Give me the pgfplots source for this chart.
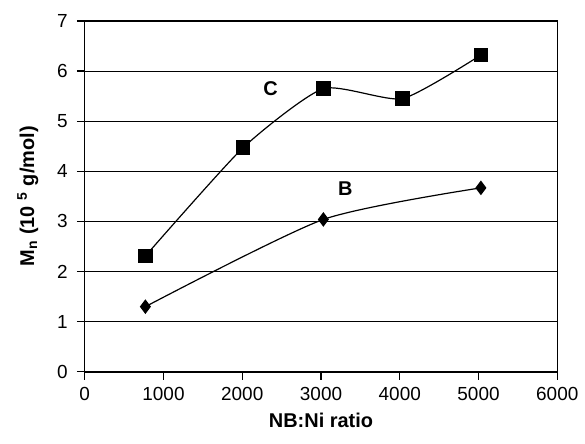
\documentclass[border=0pt]{standalone}
\usepackage{fontspec}
\setmainfont{Liberation Sans}
\usepackage{pgfplots}
\pgfplotsset{compat=1.18}

\begin{document}
\begin{tikzpicture}
\begin{axis}[
    scale only axis,
    width=237pt, height=176pt,
    xmin=0, xmax=6000, ymin=0, ymax=7,
    xtick={0,1000,...,6000}, ytick={0,1,...,7},
    ymajorgrids,
    grid style={black, line width=0.5pt},
    axis line style={line width=0.7pt},
    tick align=outside,
    major tick length=4pt,
    tick style={black, line width=0.6pt},
    xtick pos=bottom, ytick pos=left,
    scaled x ticks=false,
    xticklabel style={/pgf/number format/1000 sep={}},
    yticklabel style={xshift=-1pt},
    /pgf/number format/assume math mode=true,
    tick label style={font=\fontsize{9.5}{11}\selectfont},
    label style={font=\bfseries\fontsize{10}{12}\selectfont},
    xlabel={NB:Ni ratio},
    ylabel={M\textsubscript{n} (10 \textsuperscript{5} g/mol)},
    xlabel style={at={(axis description cs:0.5,0)}, anchor=center, yshift=-24.5pt},
    ylabel style={at={(axis description cs:0,0.5)}, anchor=center, yshift=28.5pt},
    clip=false,
]
\addplot[black, line width=0.6pt, smooth, tension=0.35, mark=square*, mark size=3.4pt,
    mark options={solid, fill=black}] coordinates {
    (770, 2.31) (2010, 4.47) (3030, 5.65) (4035, 5.45) (5030, 6.32)
};
\addplot[black, line width=0.6pt, smooth, tension=0.4, mark=diamond*, mark size=3.2pt,
    mark options={solid, fill=black}] coordinates {
    (770, 1.30) (3030, 3.04) (5030, 3.67)
};
\node[font=\bfseries\fontsize{10}{12}\selectfont] at (axis cs:2360,5.65) {C};
\node[font=\bfseries\fontsize{10}{12}\selectfont] at (axis cs:3310,3.66) {B};
\path (rel axis cs:0,0) ++(-42.5pt,-36pt);
\path (rel axis cs:1,1) ++(13pt,10.5pt);
\end{axis}
\end{tikzpicture}
\end{document}
